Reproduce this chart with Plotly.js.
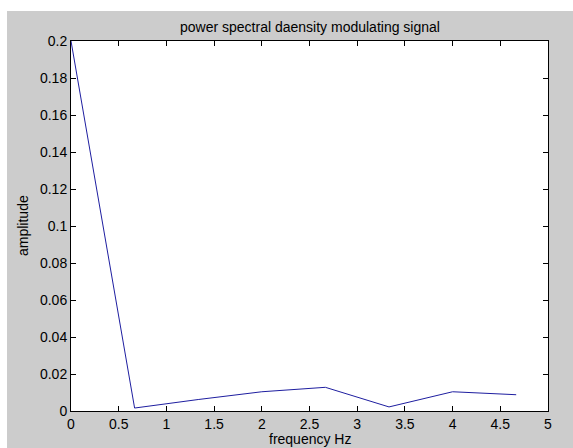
<!DOCTYPE html>
<html>
<head>
<meta charset="utf-8">
<script src="https://cdn.plot.ly/plotly-3.0.1.min.js"></script>
<style>
html,body{margin:0;padding:0;background:#ffffff;overflow:hidden;}
#chart{position:absolute;left:7px;top:11px;width:566px;height:437px;}
</style>
</head>
<body>
<div id="chart"></div>
<script>
var freq = [0, 0.6667, 1.3333, 2, 2.6667, 3.3333, 4, 4.6667];
var amplitude = [0.2, 0.0016, 0.0062, 0.0104, 0.0128, 0.0022, 0.0104, 0.0088];
var xTicks = [0, 0.5, 1, 1.5, 2, 2.5, 3, 3.5, 4, 4.5, 5];
var xTickText = ['0', '0.5', '1', '1.5', '2', '2.5', '3', '3.5', '4', '4.5', '5'];
var yTicks = [0, 0.02, 0.04, 0.06, 0.08, 0.1, 0.12, 0.14, 0.16, 0.18, 0.2];
var yTickText = ['0', '0.02', '0.04', '0.06', '0.08', '0.1', '0.12', '0.14', '0.16', '0.18', '0.2'];

var FONT = 'Liberation Sans, Arial, sans-serif';
var trace = {
  x: freq, y: amplitude, type: 'scatter', mode: 'lines',
  line: {color: 'rgb(30,30,160)', width: 1},
  hoverinfo: 'none'
};
var axisCommon = {
  showgrid: false, zeroline: false, showline: true, linecolor: '#000', linewidth: 1,
  mirror: 'ticks', ticks: 'inside', ticklen: 5, tickcolor: '#000', tickwidth: 1,
  tickfont: {family: FONT, size: 14, color: '#000'}
};
var layout = {
  width: 566, height: 437,
  paper_bgcolor: '#cccccc', plot_bgcolor: '#ffffff',
  margin: {l: 64, r: 25, t: 30, b: 37, pad: 0},
  showlegend: false,
  xaxis: Object.assign({}, axisCommon, {range: [0, 5], tickvals: xTicks, ticktext: xTickText}),
  yaxis: Object.assign({}, axisCommon, {range: [0, 0.2], tickvals: yTicks, ticktext: yTickText}),
  annotations: [
    {text: 'power spectral daensity modulating signal', xref: 'paper', yref: 'paper', x: 0.5, y: 1,
     xanchor: 'center', yanchor: 'middle', yshift: 14, showarrow: false, font: {family: FONT, size: 14, color: '#000'}},
    {text: 'frequency Hz', xref: 'paper', yref: 'paper', x: 0.5, y: 0,
     xanchor: 'center', yanchor: 'middle', yshift: -28, showarrow: false, font: {family: FONT, size: 14, color: '#000'}},
    {text: 'amplitude', xref: 'paper', yref: 'paper', x: -48 / 477, y: 0.5, textangle: -90,
     xanchor: 'center', yanchor: 'middle', showarrow: false, font: {family: FONT, size: 14, color: '#000'}}
  ]
};
Plotly.newPlot('chart', [trace], layout, {staticPlot: true, displayModeBar: false});
</script>
</body>
</html>
